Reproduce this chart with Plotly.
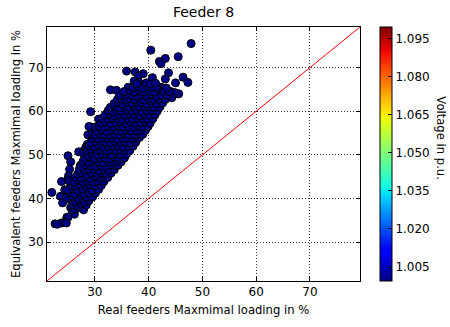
import numpy as np
import plotly.graph_objects as go

# Maximal loading (%) per simulated case: real feeder (x) vs. equivalent feeder (y)
real_loading = [
    # sparse cases around the cloud
    47.9, 40.4, 43.1, 42.0, 42.3, 45.5, 35.9, 37.5, 39.0, 38.1, 40.7, 43.7,
    43.1, 46.4, 47.3, 45.0, 45.4, 44.1, 32.9, 34.0, 36.2, 29.2, 29.2, 30.7,
    28.7, 28.9, 32.2, 33.7, 27.9, 27.0, 25.0, 25.5, 25.3, 25.1, 23.8, 22.0,
    23.6, 24.4, 24.0, 25.3, 25.5, 25.8, 24.8, 24.3, 23.8, 22.6, 23.0, 27.0,
    26.4, 26.6, 27.3, 38.2, 39.2, 42.3, 41.6, 44.1, 45.6,
    28.3, 28.6, 25.0, 25.9, 26.2, 25.0, 24.7, 44.8, 44.3, 42.1, 30.7, 37.3,
    # dense band, bottom to top
    26.3, 27.2, 27.9,
    25.9, 26.8, 27.5, 28.4,
    26.4, 27.1, 28.1, 28.9,
    24.7, 25.7, 26.9, 27.6, 28.5, 29.6,
    25.4, 26.3, 27.3, 28.0, 29.0, 30.1,
    24.9, 26.0, 26.7, 27.8, 28.6, 29.5, 30.7,
    25.6, 26.4, 27.2, 28.3, 29.1, 30.0, 31.2,
    25.2, 26.1, 27.0, 27.7, 28.8, 29.6, 30.6, 31.7,
    26.4, 27.4, 28.2, 29.1, 30.1, 30.9, 31.8, 32.4,
    26.8, 27.6, 28.6, 29.4, 30.5, 31.3, 32.2, 33.0,
    27.1, 28.1, 28.9, 29.9, 30.8, 31.6, 32.6, 33.6,
    27.5, 28.4, 29.3, 30.2, 31.1, 32.0, 33.1, 33.9, 34.3,
    27.8, 28.8, 29.6, 30.6, 31.5, 32.4, 33.3, 34.2, 34.9,
    28.1, 29.1, 30.0, 30.9, 31.9, 32.8, 33.6, 34.6, 35.5,
    27.9, 28.6, 29.5, 30.4, 31.3, 32.2, 33.1, 34.1, 34.9, 35.9,
    28.6, 29.3, 30.3, 31.1, 32.1, 32.9, 33.9, 34.7, 35.6, 36.5,
    28.9, 29.9, 30.7, 31.6, 32.5, 33.5, 34.3, 35.3, 36.2, 37.1,
    29.2, 30.2, 31.2, 32.0, 32.9, 33.8, 34.8, 35.7, 36.6, 37.6,
    29.6, 30.5, 31.4, 32.4, 33.3, 34.2, 35.1, 36.1, 37.0, 37.9, 38.3,
    29.4, 30.0, 30.9, 31.9, 32.7, 33.7, 34.6, 35.5, 36.4, 37.4, 38.3, 38.9,
    30.3, 31.3, 32.2, 33.1, 34.0, 35.0, 35.9, 36.8, 37.8, 38.7, 39.4,
    30.1, 30.7, 31.6, 32.6, 33.5, 34.4, 35.3, 36.3, 37.2, 38.1, 39.0, 39.9,
    31.1, 32.0, 33.0, 33.9, 34.8, 35.7, 36.7, 37.6, 38.5, 39.5, 40.3,
    31.4, 32.4, 33.3, 34.3, 35.2, 36.1, 37.0, 38.0, 38.9, 39.8, 40.8,
    31.9, 32.8, 33.7, 34.6, 35.6, 36.5, 37.4, 38.4, 39.3, 40.2, 41.2,
    32.5, 33.3, 34.1, 35.0, 36.0, 36.9, 37.8, 38.7, 39.7, 40.6, 41.6,
    32.9, 33.8, 34.6, 35.5, 36.4, 37.3, 38.3, 39.2, 40.1, 41.0, 42.1,
    33.6, 34.3, 35.1, 36.0, 36.9, 37.8, 38.7, 39.6, 40.6, 41.5, 42.6,
    34.2, 35.0, 35.8, 36.5, 37.4, 38.3, 39.2, 40.1, 41.0, 42.0, 43.1,
    34.6, 35.6, 36.9, 37.8, 38.8, 39.6, 40.5, 41.5, 42.5, 43.5,
    35.4, 36.6, 37.4, 38.3, 39.1, 40.2, 41.0, 42.9, 43.8,
    37.1, 38.0, 38.9, 39.8, 40.6, 41.5, 43.3,
    37.8, 39.6, 40.3, 41.3,
]

equivalent_loading = [
    75.5, 74.0, 72.1, 71.4, 70.9, 72.5, 69.2, 69.0, 68.6, 68.1, 67.7, 68.8,
    67.4, 67.8, 66.6, 66.5, 64.0, 64.5, 64.9, 64.8, 65.5, 59.9, 56.4, 58.2,
    54.6, 56.5, 59.5, 60.2, 50.9, 50.7, 49.8, 48.4, 46.7, 45.2, 43.9, 41.4,
    40.5, 42.0, 39.0, 39.8, 37.9, 36.8, 35.7, 34.5, 34.4, 34.2, 34.1, 38.3,
    37.9, 38.6, 47.6, 66.6, 66.2, 65.5, 64.1, 63.6, 64.0,
    51.7, 52.4, 44.4, 38.3, 36.4, 35.7, 34.4, 64.3, 63.1, 64.7, 56.5, 66.9,
    37.5, 37.9, 37.4,
    38.6, 38.3, 38.8, 38.5,
    39.3, 39.6, 39.2, 39.5,
    40.2, 40.5, 40.1, 40.6, 40.3, 40.4,
    41.3, 41.0, 41.4, 41.1, 41.3, 41.2,
    42.0, 42.3, 41.9, 42.2, 42.4, 41.9, 42.1,
    43.1, 42.8, 43.3, 43.0, 43.2, 42.9, 43.0,
    44.0, 43.8, 44.2, 43.9, 44.1, 43.8, 44.0, 43.9,
    44.9, 44.6, 45.0, 44.7, 45.1, 44.8, 44.9, 44.8,
    45.6, 45.9, 45.5, 45.8, 45.6, 45.9, 45.7, 45.8,
    46.7, 46.5, 46.8, 46.6, 46.4, 46.8, 46.6, 46.6,
    47.4, 47.7, 47.5, 47.3, 47.6, 47.4, 47.7, 47.4, 47.6,
    48.5, 48.3, 48.6, 48.4, 48.2, 48.6, 48.3, 48.5, 48.4,
    49.2, 49.5, 49.1, 49.4, 49.3, 49.1, 49.5, 49.2, 49.3,
    50.3, 50.1, 50.4, 50.0, 50.3, 50.2, 50.0, 50.4, 50.1, 50.2,
    51.0, 51.3, 51.1, 51.2, 50.9, 51.3, 51.0, 51.2, 51.1, 51.0,
    52.1, 51.8, 52.2, 51.9, 52.1, 52.0, 52.2, 51.8, 52.1, 52.0,
    52.8, 53.1, 52.9, 53.0, 52.7, 53.1, 52.9, 53.0, 52.8, 52.9,
    53.9, 53.7, 54.0, 53.8, 53.9, 53.6, 54.0, 53.8, 53.9, 53.7, 54.0,
    54.8, 54.6, 54.9, 54.7, 54.5, 54.8, 54.6, 54.9, 54.7, 54.6, 54.8, 54.7,
    55.5, 55.7, 55.4, 55.7, 55.6, 55.5, 55.8, 55.5, 55.6, 55.7, 55.6,
    56.4, 56.6, 56.3, 56.6, 56.4, 56.7, 56.4, 56.5, 56.3, 56.6, 56.4, 56.5,
    57.3, 57.5, 57.2, 57.4, 57.6, 57.3, 57.5, 57.2, 57.4, 57.5, 57.3,
    58.4, 58.2, 58.5, 58.3, 58.1, 58.4, 58.2, 58.5, 58.3, 58.2, 58.3,
    59.1, 59.3, 59.0, 59.3, 59.1, 59.4, 59.2, 59.0, 59.3, 59.1, 59.2,
    60.2, 59.9, 60.2, 60.0, 60.3, 60.0, 60.2, 59.9, 60.1, 60.2, 60.0,
    60.9, 61.1, 60.8, 61.1, 60.9, 61.2, 60.9, 61.1, 61.0, 60.9, 61.0,
    61.8, 62.0, 61.7, 62.0, 61.8, 62.1, 61.9, 61.7, 62.0, 61.8, 61.9,
    62.7, 62.9, 62.6, 62.9, 62.7, 62.9, 62.6, 62.9, 62.7, 62.8, 62.7,
    63.6, 63.8, 63.7, 63.5, 63.8, 63.6, 63.8, 63.5, 63.7, 63.6,
    64.5, 64.7, 64.4, 64.7, 64.5, 64.6, 64.4, 64.6, 64.5,
    65.4, 65.6, 65.3, 65.6, 65.4, 65.5, 65.3,
    66.3, 66.5, 66.2, 66.4,
]

assert len(real_loading) == len(equivalent_loading)

# Every case sits at the bottom of the voltage scale
voltage_pu = 1.0
voltage_ticks = [1.005, 1.020, 1.035, 1.050, 1.065, 1.080, 1.095]
voltage_range = [0.9995, 1.0995]

loading_ticks = [30, 40, 50, 60, 70]
loading_range = [21.1, 79.3]

# matplotlib-style "jet" colour map
_jet = {
    "r": [(0, 0), (0.35, 0), (0.66, 1), (0.89, 1), (1, 0.5)],
    "g": [(0, 0), (0.125, 0), (0.375, 1), (0.64, 1), (0.91, 0), (1, 0)],
    "b": [(0, 0.5), (0.11, 1), (0.34, 1), (0.65, 0), (1, 0)],
}
stops = sorted({p for seg in _jet.values() for p, _ in seg})
jet = []
for s in stops:
    rgb = [int(round(255 * np.interp(s, [p for p, _ in _jet[c]], [v for _, v in _jet[c]])))
           for c in "rgb"]
    jet.append([s, "rgb(%d,%d,%d)" % tuple(rgb)])

font = "DejaVu Sans"

fig = go.Figure()

fig.add_trace(go.Scatter(
    x=real_loading,
    y=equivalent_loading,
    mode="markers",
    marker=dict(
        size=8,
        color=[voltage_pu] * len(real_loading),
        colorscale=jet,
        cmin=voltage_range[0],
        cmax=voltage_range[1],
        line=dict(color="black", width=1),
        showscale=True,
        colorbar=dict(
            x=(380 - 47) / 313, xanchor="left", xpad=0,
            y=0.5, yanchor="middle", ypad=0,
            len=1, lenmode="fraction", thickness=12, thicknessmode="pixels",
            outlinewidth=1, outlinecolor="black",
            tickvals=voltage_ticks,
            ticktext=["%.3f" % v for v in voltage_ticks],
            ticks="inside", ticklen=4, tickcolor="black",
            tickfont=dict(family=font, size=12, color="black"),
        ),
    ),
    showlegend=False,
    hoverinfo="x+y",
))

# identity line
fig.add_trace(go.Scatter(
    x=[0, 100], y=[0, 100], mode="lines",
    line=dict(color="red", width=1),
    showlegend=False, hoverinfo="skip",
))

axis_common = dict(
    range=loading_range,
    tickvals=loading_ticks,
    ticks="inside", ticklen=4, tickcolor="black",
    showline=True, linecolor="black", linewidth=1, mirror="allticks",
    showgrid=True, gridcolor="#333333", gridwidth=1, griddash="1px,2px",
    zeroline=False,
    tickfont=dict(family=font, size=12, color="black"),
)

fig.update_layout(
    width=450, height=327,
    margin=dict(l=47, r=90, t=27, b=40),
    paper_bgcolor="white", plot_bgcolor="white",
    title=dict(text="Feeder 8", x=0.5, xref="paper", xanchor="center",
               y=1 - 12 / 327, yref="container", yanchor="middle",
               font=dict(family=font, size=14, color="black")),
    xaxis=dict(axis_common,
               title=dict(text="Real feeders Maxmimal loading in %", standoff=7,
                          font=dict(family=font, size=11.6, color="black"))),
    yaxis=dict(axis_common,
               title=dict(text="Equivalent feeders Maxmimal loading in %", standoff=5,
                          font=dict(family=font, size=11.6, color="black"))),
    annotations=[dict(
        text="Voltage in p.u.", textangle=90,
        xref="paper", yref="paper",
        x=(441 - 47) / 313, y=(287 - 141) / 260,
        xanchor="center", yanchor="middle", showarrow=False,
        font=dict(family=font, size=11.6, color="black"),
    )],
)

fig.write_html("out.html")
